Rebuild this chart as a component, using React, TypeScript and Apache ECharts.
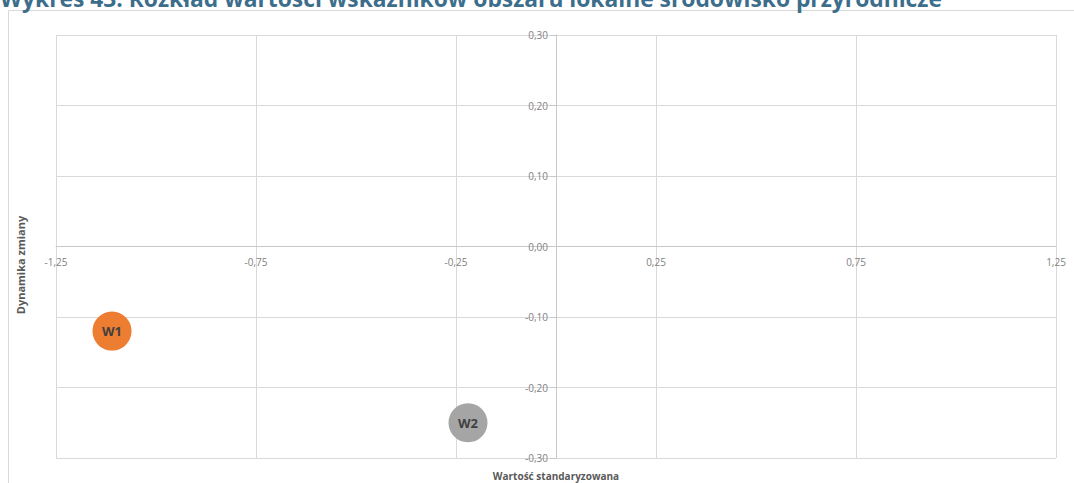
import React, { useEffect, useRef } from "react";
import * as echarts from "echarts";

const titleText = "Wykres 43. Rozkład wartości wskaźników obszaru lokalne środowisko przyrodnicze";
const xAxisName = "Wartość standaryzowana";
const yAxisName = "Dynamika zmiany";
const pointNames = ["W1", "W2"];
const xValues = [-1.11, -0.22];
const yValues = [-0.12, -0.25];
const pointColors = ["#ED7D31", "#A5A5A5"];
const xRange = [-1.25, 1.25];
const yRange = [-0.3, 0.3];
const xStep = 0.5;
const yStep = 0.1;

const fmt = (v: number) => v.toFixed(2).replace(".", ",");

export default function App() {
  const ref = useRef<HTMLDivElement>(null);
  useEffect(() => {
    document.body.style.margin = "0";
    const chart = echarts.init(ref.current!, null, { renderer: "svg" });
    const series = pointNames.map((n, i) => ({
      type: "scatter",
      name: n,
      xAxisIndex: 0,
      yAxisIndex: 0,
      symbolSize: 39,
      data: [[xValues[i], yValues[i]]],
      itemStyle: { color: pointColors[i], opacity: 1 },
      label: {
        show: true,
        position: "inside",
        formatter: n,
        color: "#404040",
        fontWeight: "bold",
        fontSize: 13,
        fontFamily: "Open Sans",
      },
    }));
    const gridTop = 35;
    const gridBottom = 25;
    const plotH = 483 - gridTop - gridBottom;
    const zeroFromBottom = (plotH * (0 - yRange[0])) / (yRange[1] - yRange[0]);
    const plotW = 1074 - 56 - 18;
    const zeroFromLeft = (plotW * (0 - xRange[0])) / (xRange[1] - xRange[0]);
    const labelStyle = {
      formatter: fmt,
      color: "#7f7f7f",
      fontSize: 10,
      fontFamily: "Open Sans",
    };
    chart.setOption({
      animation: false,
      backgroundColor: "#ffffff",
      grid: { left: 56, right: 18, top: gridTop, bottom: gridBottom, outerBoundsMode: "none", containLabel: false },
      graphic: [
        {
          type: "rect",
          shape: { x: 8.5, y: 10.5, width: 1200, height: 600 },
          style: { fill: "none", stroke: "#d9d9d9", lineWidth: 1 },
          z: -10,
        },
        {
          type: "text",
          left: 0,
          top: -13,
          style: {
            text: titleText,
            font: "bold 22.8px 'Open Sans'",
            fill: "#3c6e8c",
          },
        },
        {
          type: "text",
          x: 20,
          y: 265,
          rotation: Math.PI / 2,
          style: {
            text: yAxisName,
            font: "bold 11px 'Open Sans'",
            fill: "#595959",
            align: "center",
            verticalAlign: "middle",
          },
        },
      ],
      xAxis: [
        {
          type: "value",
          min: xRange[0],
          max: xRange[1],
          interval: xStep,
          name: xAxisName,
          nameLocation: "middle",
          nameGap: 13,
          nameTextStyle: {
            color: "#595959",
            fontWeight: "bold",
            fontSize: 10,
            fontFamily: "Open Sans",
          },
          axisLine: { show: false, onZero: false },
          axisTick: { show: false },
          axisLabel: { show: false },
          splitLine: { show: true, lineStyle: { color: "#d9d9d9" } },
        },
        {
          type: "value",
          min: xRange[0],
          max: xRange[1],
          interval: xStep,
          position: "bottom",
          offset: -zeroFromBottom,
          axisLine: { show: true, onZero: false, lineStyle: { color: "#c8c8c8" } },
          axisTick: { show: false },
          axisLabel: { ...labelStyle, margin: 10 },
          splitLine: { show: false },
        },
      ],
      yAxis: [
        {
          type: "value",
          min: yRange[0],
          max: yRange[1],
          interval: yStep,
          axisLine: { show: false, onZero: false },
          axisTick: { show: false },
          axisLabel: { show: false },
          splitLine: { show: true, lineStyle: { color: "#d9d9d9" } },
        },
        {
          type: "value",
          min: yRange[0],
          max: yRange[1],
          interval: yStep,
          position: "left",
          offset: -zeroFromLeft,
          axisLine: { show: true, onZero: false, lineStyle: { color: "#c8c8c8" } },
          axisTick: { show: true, length: 6, lineStyle: { color: "#c8c8c8" } },
          axisLabel: { ...labelStyle, margin: 8 },
          splitLine: { show: false },
        },
      ],
      series,
    });
    return () => chart.dispose();
  }, []);
  return <div ref={ref} style={{ width: 1074, height: 483 }} />;
}
